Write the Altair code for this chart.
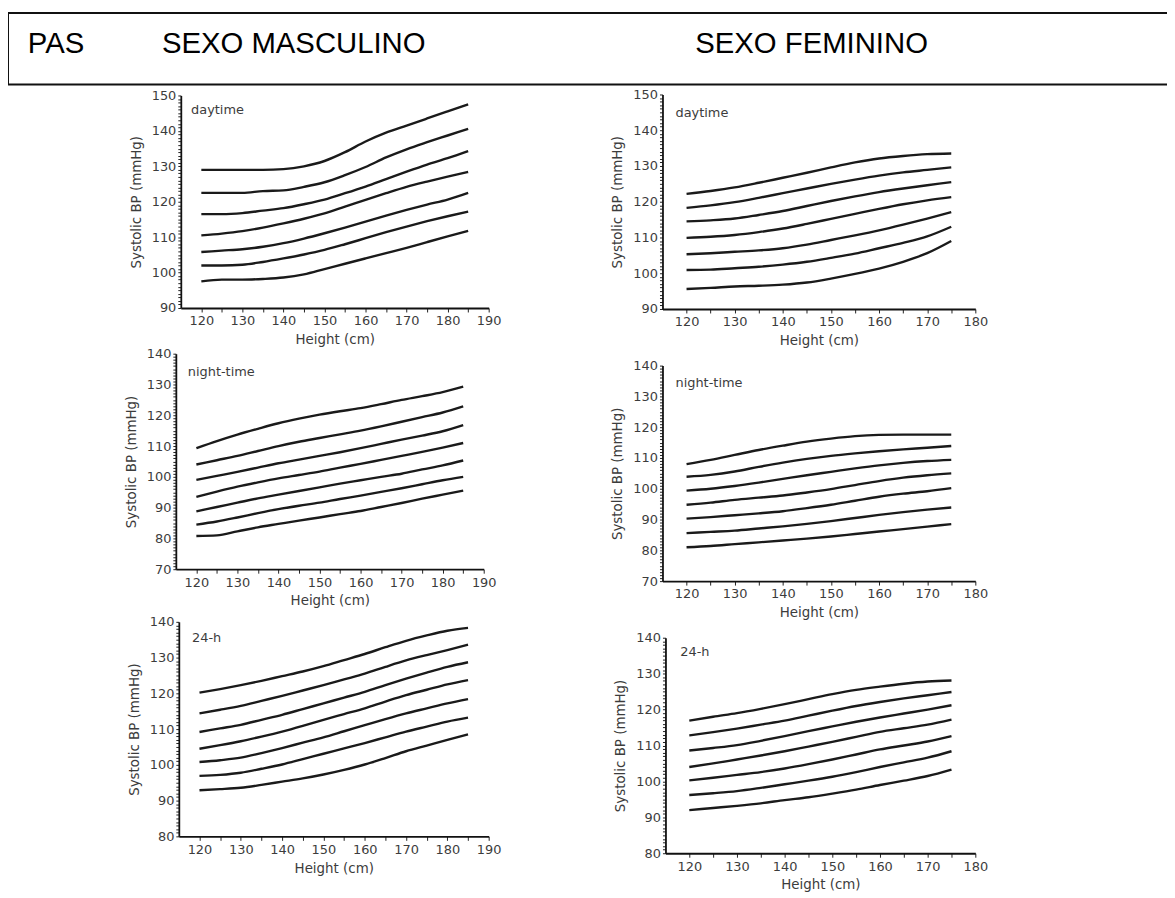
import altair as alt
import pandas as pd

# ---------------- data ----------------
HEIGHT_M = [120, 125, 130, 135, 140, 145, 150, 155, 160, 165, 170, 175, 180, 185]
HEIGHT_F = [120, 125, 130, 135, 140, 145, 150, 155, 160, 165, 170, 175]

M_DAY = [
    [129, 129, 129, 129, 129.2, 130, 131.5, 134, 137, 139.5, 141.5, 143.5, 145.5, 147.5],
    [122.5, 122.5, 122.5, 123, 123.2, 124.2, 125.5, 127.5, 129.8, 132.5, 134.8, 136.8, 138.7, 140.6],
    [116.5, 116.5, 116.8, 117.5, 118.2, 119.3, 120.6, 122.4, 124.3, 126.4, 128.5, 130.5, 132.3, 134.3],
    [110.5, 111, 111.7, 112.7, 113.9, 115.2, 116.7, 118.6, 120.5, 122.4, 124.2, 125.7, 127.1, 128.4],
    [105.8, 106.2, 106.6, 107.3, 108.3, 109.6, 111.1, 112.7, 114.4, 116.1, 117.7, 119.2, 120.6, 122.5],
    [102, 102, 102.2, 103, 104, 105.1, 106.4, 108, 109.7, 111.4, 113, 114.5, 115.9, 117.2],
    [97.5, 98, 98, 98.2, 98.6, 99.5, 101, 102.5, 104, 105.5, 107, 108.6, 110.2, 111.8],
]
F_DAY = [
    [122.2, 123, 124, 125.3, 126.7, 128.1, 129.6, 131, 132.1, 132.8, 133.3, 133.5],
    [118.3, 119, 119.9, 121.1, 122.4, 123.7, 125, 126.2, 127.3, 128.2, 128.9, 129.6],
    [114.5, 114.8, 115.3, 116.3, 117.4, 118.8, 120.2, 121.5, 122.7, 123.7, 124.6, 125.5],
    [109.9, 110.2, 110.7, 111.5, 112.5, 113.8, 115.2, 116.6, 118, 119.3, 120.4, 121.3],
    [105.3, 105.6, 106, 106.4, 107, 108, 109.3, 110.6, 112, 113.6, 115.3, 117.1],
    [100.9, 101, 101.4, 101.8, 102.4, 103.2, 104.3, 105.5, 107, 108.5, 110.3, 113],
    [95.6, 95.9, 96.3, 96.5, 96.8, 97.4, 98.5, 99.8, 101.3, 103.2, 105.6, 109],
]
M_NIGHT = [
    [109.3, 111.6, 113.7, 115.6, 117.4, 118.9, 120.2, 121.3, 122.3, 123.6, 125, 126.2, 127.5, 129.3],
    [104, 105.4, 106.8, 108.4, 110, 111.4, 112.6, 113.8, 115, 116.4, 117.9, 119.4, 120.9, 122.9],
    [99, 100.3, 101.6, 103, 104.4, 105.6, 106.8, 108, 109.3, 110.7, 112.1, 113.4, 114.8, 116.8],
    [93.5, 95.2, 96.8, 98.2, 99.5, 100.6, 101.7, 103, 104.2, 105.5, 106.8, 108.1, 109.5, 111],
    [88.8, 90.2, 91.6, 93, 94.2, 95.4, 96.6, 97.8, 98.9, 100, 101, 102.4, 103.7, 105.3],
    [84.5, 85.5, 86.8, 88.2, 89.5, 90.6, 91.6, 92.8, 93.9, 95.1, 96.3, 97.6, 98.9, 100],
    [80.8, 81, 82.3, 83.6, 84.7, 85.8, 86.8, 87.9, 88.9, 90.2, 91.5, 92.9, 94.2, 95.5],
]
F_NIGHT = [
    [108, 109.4, 111, 112.6, 114, 115.3, 116.3, 117.1, 117.5, 117.6, 117.6, 117.6],
    [103.9, 104.5, 105.6, 107.1, 108.5, 109.7, 110.7, 111.5, 112.2, 112.8, 113.3, 113.9],
    [99.4, 100, 100.9, 102, 103.2, 104.4, 105.5, 106.6, 107.6, 108.4, 109, 109.4],
    [94.8, 95.5, 96.4, 97.1, 97.8, 98.8, 99.9, 101.2, 102.5, 103.6, 104.4, 105],
    [90.3, 90.8, 91.4, 92, 92.7, 93.7, 94.8, 96.1, 97.4, 98.4, 99.2, 100.2],
    [85.6, 86, 86.4, 87.1, 87.8, 88.6, 89.5, 90.5, 91.5, 92.4, 93.2, 93.9],
    [81, 81.4, 82, 82.6, 83.2, 83.8, 84.5, 85.3, 86.1, 86.9, 87.7, 88.5],
]
M_24H = [
    [120.2, 121.2, 122.3, 123.5, 124.8, 126.1, 127.6, 129.3, 131, 132.9, 134.7, 136.2, 137.5, 138.3],
    [114.4, 115.4, 116.5, 117.9, 119.3, 120.8, 122.3, 123.9, 125.5, 127.4, 129.2, 130.7, 132.1, 133.6],
    [109.2, 110.2, 111.2, 112.6, 114, 115.6, 117.2, 118.8, 120.4, 122.3, 124.1, 125.8, 127.4, 128.7],
    [104.5, 105.5, 106.6, 107.9, 109.3, 110.9, 112.6, 114.2, 115.8, 117.7, 119.5, 121, 122.5, 123.7],
    [100.8, 101.3, 102, 103.3, 104.7, 106.2, 107.7, 109.4, 111.1, 112.8, 114.4, 115.8, 117.2, 118.4],
    [96.9, 97.2, 97.8, 98.9, 100.1, 101.6, 103.1, 104.6, 106.1, 107.7, 109.3, 110.7, 112.1, 113.2],
    [92.9, 93.2, 93.6, 94.4, 95.3, 96.2, 97.3, 98.6, 100.1, 101.9, 103.8, 105.4, 107, 108.5],
]
F_24H = [
    [116.9, 118, 119, 120.2, 121.5, 122.9, 124.3, 125.5, 126.4, 127.2, 127.8, 128.1],
    [112.8, 113.7, 114.7, 115.8, 116.9, 118.3, 119.7, 121, 122.1, 123.1, 124, 124.9],
    [108.6, 109.3, 110.1, 111.3, 112.6, 114, 115.3, 116.6, 117.8, 118.9, 120, 121.2],
    [104, 105, 106.1, 107.2, 108.4, 109.7, 111, 112.4, 113.8, 114.8, 115.8, 117.2],
    [100.3, 101, 101.8, 102.6, 103.6, 104.8, 106.1, 107.5, 108.9, 110, 111.1, 112.6],
    [96.2, 96.7, 97.3, 98.2, 99.2, 100.2, 101.3, 102.6, 104, 105.3, 106.6, 108.4],
    [92, 92.6, 93.2, 93.9, 94.8, 95.6, 96.6, 97.7, 99, 100.2, 101.5, 103.3],
]

PANEL_LABELS = ["daytime", "daytime", "night-time", "night-time", "24-h", "24-h"]
HEADER_TEXTS = ["PAS", "SEXO MASCULINO", "SEXO FEMININO"]

# ---------------- layout (pixels inside the chart) ----------------
W, H = 1167, 890
FONT = "DejaVu Sans"
INK = "#3c3c3c"

panels = [
    dict(h=HEIGHT_M, c=M_DAY, lab=PANEL_LABELS[0], xd=[115, 190], yd=[90, 150],
         px=[174, 484], py=[299, 85], lx=117.5, ly=146),
    dict(h=HEIGHT_F, c=F_DAY, lab=PANEL_LABELS[1], xd=[115, 180], yd=[90, 150],
         px=[659, 974], py=[300, 84], lx=117.7, ly=144.8),
    dict(h=HEIGHT_M, c=M_NIGHT, lab=PANEL_LABELS[2], xd=[115, 190], yd=[70, 140],
         px=[169, 479], py=[562, 345], lx=117.9, ly=134.2),
    dict(h=HEIGHT_F, c=F_NIGHT, lab=PANEL_LABELS[3], xd=[115, 180], yd=[70, 140],
         px=[659, 974], py=[574, 357], lx=117.7, ly=134.5),
    dict(h=HEIGHT_M, c=M_24H, lab=PANEL_LABELS[4], xd=[115, 190], yd=[80, 140],
         px=[172, 484], py=[831, 615], lx=118.2, ly=135.6),
    dict(h=HEIGHT_F, c=F_24H, lab=PANEL_LABELS[5], xd=[115, 180], yd=[80, 140],
         px=[662, 974], py=[848, 631], lx=118.1, ly=136.1),
]


def make_panel(p):
    rows = []
    for ci, curve in enumerate(p["c"]):
        for hv, bp in zip(p["h"], curve):
            rows.append({"height": hv, "bp": bp, "curve": f"c{ci}"})
    df = pd.DataFrame(rows)

    def xs():
        return alt.Scale(domain=p["xd"], range=p["px"], nice=False, zero=False)

    def ys():
        return alt.Scale(domain=p["yd"], range=p["py"], nice=False, zero=False)

    xaxis = alt.Axis(
        orient="bottom", offset=p["py"][0] - H,
        values=list(range(120, p["xd"][1] + 1, 5)),
        labelExpr="datum.value % 10 == 0 ? datum.label : ''",
        title="Height (cm)", tickSize=4, labelPadding=3, titlePadding=5,
        labelFlush=False, labelOverlap=False, grid=False,
    )
    yaxis = alt.Axis(
        orient="left", offset=-p["px"][0],
        values=list(range(p["yd"][0], p["yd"][1] + 1)),
        labelExpr="datum.value % 10 == 0 ? datum.label : ''",
        title="Systolic BP (mmHg)", tickSize=3, labelPadding=2, titlePadding=8,
        labelOverlap=False, grid=False,
    )
    lines = alt.Chart(df).mark_line(
        color="#1a1a1a", strokeWidth=2.4, interpolate="monotone"
    ).encode(
        x=alt.X("height:Q", scale=xs(), axis=xaxis),
        y=alt.Y("bp:Q", scale=ys(), axis=yaxis),
        detail="curve:N",
    )
    lab = alt.Chart(pd.DataFrame({"height": [p["lx"]], "bp": [p["ly"]], "t": [p["lab"]]})).mark_text(
        align="left", baseline="middle", font=FONT, fontSize=13, color=INK
    ).encode(
        x=alt.X("height:Q", scale=xs(), axis=None),
        y=alt.Y("bp:Q", scale=ys(), axis=None),
        text="t:N",
    )
    return [lines, lab]


# header box and texts
box = alt.Chart(pd.DataFrame({"k": [0]})).mark_rect(
    fill="white", fillOpacity=0, stroke="#111", strokeWidth=2
).encode(
    x=alt.value(0), x2=alt.value(1190), y=alt.value(2), y2=alt.value(74)
)
hdr = pd.DataFrame({"t": HEADER_TEXTS, "px": [20, 155, 692]})
header = alt.Chart(hdr).mark_text(
    align="left", baseline="alphabetic", font="Liberation Sans", fontSize=29.5, color="#000"
).encode(
    x=alt.X("px:Q", scale=None, axis=None),
    y=alt.value(42),
    text="t:N",
)

layers = [box, header]
for p in panels:
    layers.extend(make_panel(p))

chart = alt.layer(*layers).resolve_scale(
    x="independent", y="independent"
).resolve_axis(
    x="independent", y="independent"
).properties(
    width=W, height=H, autosize=alt.AutoSizeParams(type="none"), padding=0,
    background="white",
).configure_view(
    strokeWidth=0
).configure_axis(
    domainColor="#111", domainWidth=1.8, tickColor="#222", tickWidth=1,
    labelFont=FONT, labelFontSize=13, labelColor=INK,
    titleFont=FONT, titleFontSize=13.5, titleFontWeight="normal", titleColor=INK,
)

chart.save("out.html", embed_options={"renderer": "svg", "actions": False})
